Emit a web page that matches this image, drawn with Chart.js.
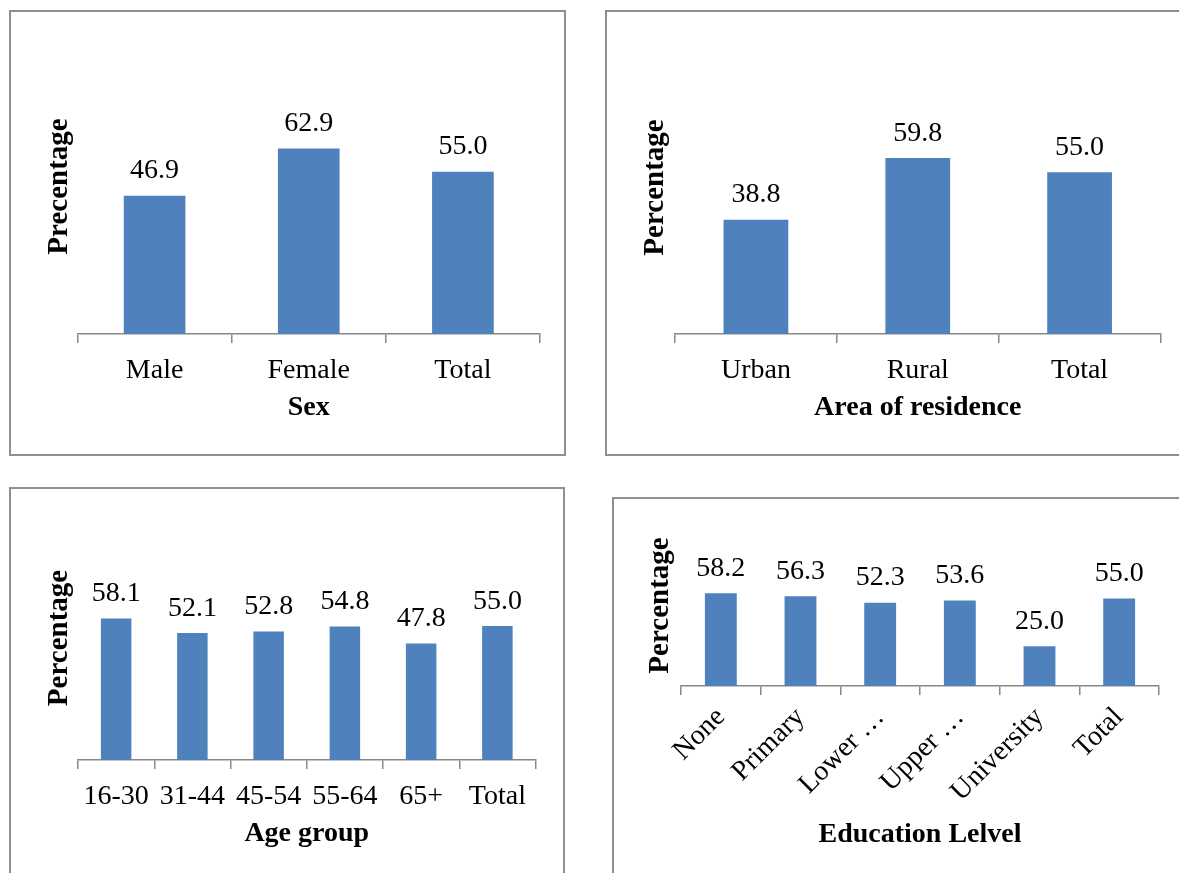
<!DOCTYPE html>
<html>
<head>
<meta charset="utf-8">
<script src="https://cdn.jsdelivr.net/npm/chart.js@4.4.1/dist/chart.umd.min.js"></script>
<style>
    html, body { margin: 0; padding: 0; background: #ffffff; overflow: hidden; }
    body { width: 1179px; height: 873px; position: relative; }
    .panel { position: absolute; border: 2px solid #8f8f8f; box-sizing: border-box; }
    .panel canvas { position: absolute; left: -2px; top: -2px; }
</style>
</head>
<body>
<div class="panel" style="left:9px; top:10px; width:557px; height:446px;"><canvas id="sexChart" width="557" height="446"></canvas></div>
<div class="panel" style="left:605px; top:10px; width:600px; height:446px;"><canvas id="residenceChart" width="600" height="446"></canvas></div>
<div class="panel" style="left:9px; top:487px; width:556px; height:420px;"><canvas id="ageChart" width="556" height="420"></canvas></div>
<div class="panel" style="left:612px; top:497px; width:600px; height:420px;"><canvas id="educationChart" width="600" height="420"></canvas></div>
<script>
const sexLabels = ['Male', 'Female', 'Total'];
const sexValues = [46.9, 62.9, 55.0];

const residenceLabels = ['Urban', 'Rural', 'Total'];
const residenceValues = [38.8, 59.8, 55.0];

const ageLabels = ['16-30', '31-44', '45-54', '55-64', '65+', 'Total'];
const ageValues = [58.1, 52.1, 52.8, 54.8, 47.8, 55.0];

const educationLabels = ['None', 'Primary', 'Lower …', 'Upper …', 'University', 'Total'];
const educationValues = [58.2, 56.3, 52.3, 53.6, 25.0, 55.0];

const barColor = '#4f81bd';
const axisColor = '#878787';
const textFont = "'Liberation Serif', 'Times New Roman', serif";

// value written above each bar
const valueLabels = {
    id: 'valueLabels',
    afterDatasetsDraw(chart) {
        const ctx = chart.ctx;
        const meta = chart.getDatasetMeta(0);
        const values = chart.data.datasets[0].data;
        ctx.save();
        ctx.font = '28px ' + textFont;
        ctx.fillStyle = '#000000';
        ctx.textAlign = 'center';
        ctx.textBaseline = 'alphabetic';
        meta.data.forEach(function(bar, i) {
            ctx.fillText(values[i].toFixed(1), bar.x, bar.y - 17.5);
        });
        ctx.restore();
    }
};

// rotated caption on the left side of the plot
const sideCaption = {
    id: 'sideCaption',
    afterDraw(chart, args, opts) {
        if (!opts.text) return;
        const ctx = chart.ctx;
        ctx.save();
        ctx.translate(opts.x, opts.y);
        ctx.rotate(-Math.PI / 2);
        ctx.font = 'bold 29px ' + textFont;
        ctx.fillStyle = '#000000';
        ctx.textAlign = 'center';
        ctx.textBaseline = 'middle';
        ctx.fillText(opts.text, 0, 0);
        ctx.restore();
    }
};

function makePanel(canvasId, labels, values, setup) {
    const ctx = document.getElementById(canvasId).getContext('2d');
    return new Chart(ctx, {
        type: 'bar',
        data: {
            labels: labels,
            datasets: [{
                data: values,
                backgroundColor: barColor,
                borderWidth: 0,
                barPercentage: 0.4,
                categoryPercentage: 1.0
            }]
        },
        options: {
            responsive: false,
            devicePixelRatio: 1,
            animation: false,
            layout: { padding: setup.padding },
            plugins: {
                legend: { display: false },
                tooltip: { enabled: false },
                sideCaption: setup.caption
            },
            scales: {
                x: {
                    offset: true,
                    grid: {
                        offset: true,
                        drawOnChartArea: false,
                        drawTicks: true,
                        tickLength: 9,
                        color: axisColor,
                        lineWidth: 1.5
                    },
                    border: { display: true, color: axisColor, width: 1.5 },
                    ticks: {
                        color: '#000000',
                        font: { family: textFont, size: 28 },
                        padding: setup.tickPadding,
                        autoSkip: false,
                        minRotation: setup.rotation,
                        maxRotation: setup.rotation
                    },
                    title: {
                        display: true,
                        text: setup.xTitle,
                        color: '#000000',
                        font: { family: textFont, size: 28, weight: 'bold' },
                        padding: { top: 0, bottom: setup.titleBottom }
                    },
                    afterFit: function(scale) {
                        scale.height = setup.axisHeight;
                    }
                },
                y: {
                    display: false,
                    min: 0,
                    max: 70
                }
            }
        },
        plugins: [valueLabels, sideCaption]
    });
}

makePanel('sexChart', sexLabels, sexValues, {
    padding: { left: 68.5, right: 26, top: 117.5, bottom: 0 },
    axisHeight: 122,
    tickPadding: 10.5,
    rotation: 0,
    xTitle: 'Sex',
    titleBottom: 31,
    caption: { text: 'Precentage', x: 51, y: 176.5 }
});

makePanel('residenceChart', residenceLabels, residenceValues, {
    padding: { left: 70, right: 44.5, top: 118, bottom: 0 },
    axisHeight: 122,
    tickPadding: 10.5,
    rotation: 0,
    xTitle: 'Area of residence',
    titleBottom: 31,
    caption: { text: 'Percentage', x: 51, y: 177.5 }
});

makePanel('ageChart', ageLabels, ageValues, {
    padding: { left: 69, right: 29.5, top: 102.5, bottom: 0 },
    axisHeight: 147,
    tickPadding: 10.5,
    rotation: 0,
    xTitle: 'Age group',
    titleBottom: 56,
    caption: { text: 'Percentage', x: 51, y: 151 }
});

makePanel('educationChart', educationLabels, educationValues, {
    padding: { left: 69, right: 53, top: 77.5, bottom: 0 },
    axisHeight: 231,
    tickPadding: 6,
    rotation: 45,
    xTitle: 'Education Lelvel',
    titleBottom: 65.5,
    caption: { text: 'Percentage', x: 49, y: 108.5 }
});
</script>
</body>
</html>
